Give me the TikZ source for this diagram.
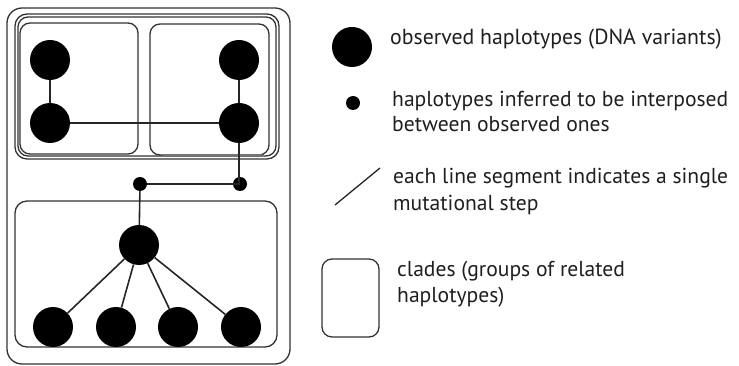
\documentclass[tikz,border=0pt]{standalone}
\usepackage{fontspec}
\setmainfont{PT Sans}
\begin{document}
\begin{tikzpicture}[x=1pt,y=-1pt,
  box/.style={draw=black!80,line width=1.3pt,rounded corners=10pt},
  big/.style={circle,fill=black,minimum size=40pt,inner sep=0pt},
  small/.style={circle,fill=black,minimum size=14pt,inner sep=0pt},
  edge/.style={draw=black!85,line width=1.6pt},
  lbl/.style={anchor=base west,align=left,inner sep=0pt,text=black!88}]
\useasboundingbox (0,0) rectangle (739,366);
% outer box
\draw[box,rounded corners=15pt] (7,8) rectangle (290,364);
% top group double box
\draw[box,rounded corners=12pt] (15,14) rectangle (279,159);
\draw[box,rounded corners=10pt] (18,17) rectangle (276,156);
% clades
\draw[box] (20,23) rectangle (138,154);
\draw[box] (150,24) rectangle (269,155);
\draw[black!55,line width=3pt] (163,156) -- (262,156);
\draw[box,rounded corners=12pt] (15,201) rectangle (277,347);
% nodes
\node[big] (lt) at (50,60) {};
\node[big] (lb) at (50,123) {};
\node[big] (rt) at (239,60) {};
\node[big] (rb) at (239,123) {};
\node[small] (sr) at (240,184) {};
\node[small] (sl) at (140,184) {};
\node[big] (bc) at (139,245) {};
\node[big] (l1) at (53,327) {};
\node[big] (l2) at (116,327) {};
\node[big] (l3) at (178,327) {};
\node[big] (l4) at (241,327) {};
% edges
\draw[edge] (lt) -- (lb);
\draw[edge] (lb) -- (rb);
\draw[edge] (rt) -- (rb);
\draw[edge] (rb) -- (rb |- sr) -- (sr);
\draw[edge] (sr) -- (sl);
\draw[edge] (sl) -- (bc);
\foreach \n in {l1,l2,l3,l4} \draw[edge] (bc) -- (\n);
% legend
\node[big] (kbig) at (352,47) {};
\node[lbl,font=\fontsize{21.8}{25}\selectfont] (t1) at (390,45) {observed haplotypes (DNA variants)};
\node[small] (ksmall) at (353,103) {};
\node[lbl,font=\fontsize{21.6}{25}\selectfont] (t2) at (392,132) {haplotypes inferred to be interposed\\between observed ones};
\coordinate (ka) at (335,205);
\coordinate (kb) at (380,168);
\draw[edge,line width=1.3pt] (ka) -- (kb);
\node[lbl,font=\fontsize{21.6}{27}\selectfont] (t3) at (393,211) {each line segment indicates a single\\mutational step};
\draw[box] (322,259) rectangle (379,337);
\node[lbl,font=\fontsize{21.6}{26}\selectfont] (t4) at (397,302) {clades (groups of related\\haplotypes)};
\end{tikzpicture}
\end{document}
